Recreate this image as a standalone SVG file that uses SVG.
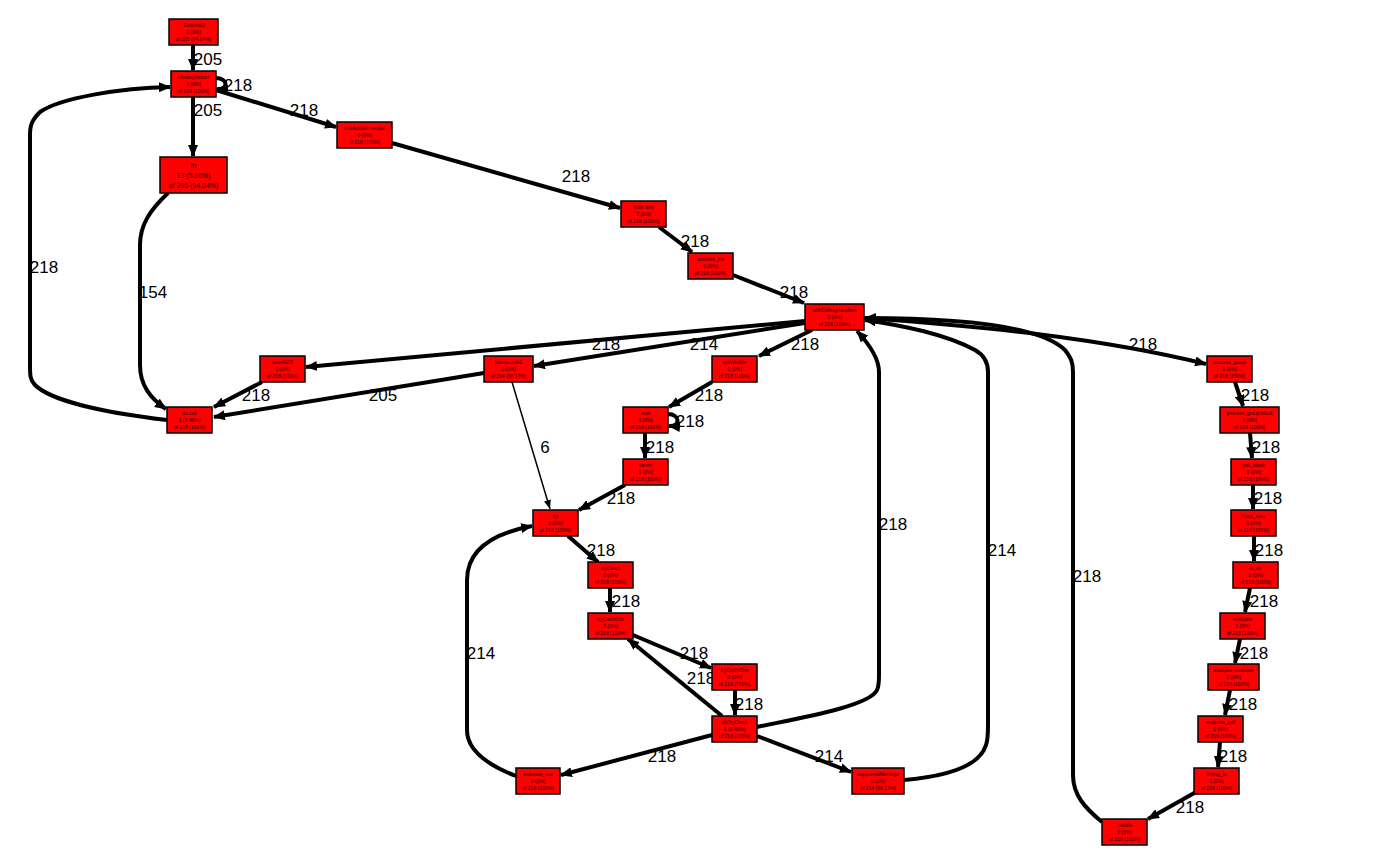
<svg xmlns="http://www.w3.org/2000/svg" width="1400" height="865" viewBox="0 0 1400 865">
<defs>
<style>
.n rect{fill:#ff0000;stroke:#000;stroke-width:1.5}
.n text{font-family:"Liberation Sans",Arial,sans-serif;font-size:5px;fill:#200;text-anchor:middle}
.e path{fill:none;stroke:#000;stroke-width:4}
.e path.t{stroke-width:1.5}
.l text{font-family:"Liberation Sans",Arial,sans-serif;font-size:17px;fill:#000;text-anchor:middle}
</style>
<marker id="a" markerWidth="12" markerHeight="10" refX="11" refY="5" orient="auto" markerUnits="userSpaceOnUse"><path d="M0,0 L12,5 L0,10 z" fill="#000"/></marker>
<marker id="b" markerWidth="9" markerHeight="7" refX="9" refY="3.5" orient="auto" markerUnits="userSpaceOnUse"><path d="M0,0 L9,3.5 L0,7 z" fill="#000"/></marker>
</defs>
<rect width="1400" height="865" fill="#fff"/>
<g class="e" id="edges">
<path marker-end="url(#a)" d="M193,45 L193,70"/>
<path marker-end="url(#a)" d="M216,78 C228,78 229,90 217,89"/>
<path marker-end="url(#a)" d="M193,97 L193,156"/>
<path marker-end="url(#a)" d="M216,90 L336,127"/>
<path marker-end="url(#a)" d="M392,143 L620,208"/>
<path marker-end="url(#a)" d="M659,227 L692,252"/>
<path marker-end="url(#a)" d="M733,275 L804,303"/>
<path marker-end="url(#a)" d="M168,193 C150,210 140,225 140,245 L140,365 C140,385 150,398 166,409"/>
<path marker-end="url(#a)" d="M167,420 C100,412 50,400 35,385 C30,380 30,375 30,365 L30,135 C30,125 32,120 40,112 C60,98 120,88 170,87"/>
<path marker-end="url(#a)" d="M805,321 L306,367"/>
<path marker-end="url(#a)" d="M805,323 L534,366"/>
<path marker-end="url(#a)" d="M812,330 L759,356"/>
<path marker-end="url(#a)" d="M864,318 C980,326 1100,338 1206,364"/>
<path marker-end="url(#a)" d="M262,382 L214,407"/>
<path marker-end="url(#a)" d="M484,373 L214,417"/>
<path class="t" marker-end="url(#b)" d="M512,382 L550,509"/>
<path marker-end="url(#a)" d="M712,382 L669,407"/>
<path marker-end="url(#a)" d="M668,414 C680,414 681,427 669,426"/>
<path marker-end="url(#a)" d="M645,433 L645,458"/>
<path marker-end="url(#a)" d="M625,485 L579,510"/>
<path marker-end="url(#a)" d="M568,536 L598,562"/>
<path marker-end="url(#a)" d="M610,588 L610,612"/>
<path marker-end="url(#a)" d="M633,635 L711,668"/>
<path marker-end="url(#a)" d="M735,690 L735,715"/>
<path marker-end="url(#a)" d="M722,716 L628,639"/>
<path marker-end="url(#a)" d="M712,735 L561,775"/>
<path marker-end="url(#a)" d="M757,736 L851,772"/>
<path marker-end="url(#a)" d="M757,727 C800,718 870,706 877,690 C879,686 879,682 879,675 L879,372 C879,360 870,345 857,331"/>
<path marker-end="url(#a)" d="M904,780 C950,776 980,765 986,745 C988,740 988,735 988,725 L988,372 C988,362 984,355 975,350 C945,334 905,326 865,320"/>
<path marker-end="url(#a)" d="M1102,822 C1085,808 1073,795 1073,775 L1073,372 C1073,362 1071,358 1065,350 C1040,326 960,318 865,318"/>
<path marker-end="url(#a)" d="M516,776 C490,766 467,752 467,730 L467,580 C467,552 490,534 532,526"/>
<path marker-end="url(#a)" d="M1235,382 L1243,406"/>
<path marker-end="url(#a)" d="M1250,433 L1252,458"/>
<path marker-end="url(#a)" d="M1253,485 L1253,509"/>
<path marker-end="url(#a)" d="M1254,536 L1254,561"/>
<path marker-end="url(#a)" d="M1250,588 L1245,612"/>
<path marker-end="url(#a)" d="M1240,639 L1235,663"/>
<path marker-end="url(#a)" d="M1230,690 L1225,715"/>
<path marker-end="url(#a)" d="M1220,742 L1218,767"/>
<path marker-end="url(#a)" d="M1196,792 L1148,819"/>
</g>
<g class="l" id="labels">
<text x="208" y="65">205</text>
<text x="238" y="91">218</text>
<text x="208" y="116">205</text>
<text x="304" y="116">218</text>
<text x="576" y="182">218</text>
<text x="695" y="247">218</text>
<text x="794" y="298">218</text>
<text x="153" y="298">154</text>
<text x="44" y="273">218</text>
<text x="606" y="350">218</text>
<text x="704" y="350">214</text>
<text x="805" y="350">218</text>
<text x="1143" y="350">218</text>
<text x="256" y="401">218</text>
<text x="383" y="401">205</text>
<text x="545" y="453">6</text>
<text x="709" y="401">218</text>
<text x="690" y="427">218</text>
<text x="660" y="453">218</text>
<text x="621" y="504">218</text>
<text x="601" y="556">218</text>
<text x="626" y="607">218</text>
<text x="694" y="659">218</text>
<text x="749" y="710">218</text>
<text x="701" y="684">218</text>
<text x="662" y="762">218</text>
<text x="829" y="762">214</text>
<text x="893" y="530">218</text>
<text x="1002" y="556">214</text>
<text x="1087" y="582">218</text>
<text x="481" y="659">214</text>
<text x="1255" y="401">218</text>
<text x="1266" y="453">218</text>
<text x="1268" y="504">218</text>
<text x="1269" y="556">218</text>
<text x="1264" y="607">218</text>
<text x="1254" y="659">218</text>
<text x="1243" y="710">218</text>
<text x="1233" y="762">218</text>
<text x="1190" y="813">218</text>
</g>
<g class="n" id="n1"><rect x="169" y="19" width="49" height="26"/><text x="193.5" y="27">.External2</text><text x="193.5" y="34">0 (0%)</text><text x="193.5" y="41">of 205 (94.04%)</text></g>
<g class="n" id="n2"><rect x="171" y="71" width="45" height="26"/><text x="193.5" y="79">&lt;Anonymous&gt;</text><text x="193.5" y="86">0 (0%)</text><text x="193.5" y="93">of 218 (100%)</text></g>
<g class="n" id="n3"><rect x="160" y="157" width="67" height="36"/><text x="193.5" y="168" style="font-size:7px">fn</text><text x="193.5" y="178" style="font-size:7px">13 (5.96%)</text><text x="193.5" y="188" style="font-size:7px">of 205 (94.04%)</text></g>
<g class="n" id="n4"><rect x="337" y="122" width="55" height="26"/><text x="364.5" y="130">rmarkdown::render</text><text x="364.5" y="137">0 (0%)</text><text x="364.5" y="144">of 218 (100%)</text></g>
<g class="n" id="n5"><rect x="621" y="201" width="45" height="26"/><text x="643.5" y="209">knitr::knit</text><text x="643.5" y="216">0 (0%)</text><text x="643.5" y="223">of 218 (100%)</text></g>
<g class="n" id="n6"><rect x="688" y="253" width="45" height="26"/><text x="710.5" y="261">process_file</text><text x="710.5" y="268">0 (0%)</text><text x="710.5" y="275">of 218 (100%)</text></g>
<g class="n" id="n7"><rect x="805" y="304" width="59" height="26"/><text x="834.5" y="312">withCallingHandlers</text><text x="834.5" y="319">0 (0%)</text><text x="834.5" y="326">of 218 (100%)</text></g>
<g class="n" id="n8"><rect x="260" y="356" width="45" height="26"/><text x="282.5" y="364">saveRDS</text><text x="282.5" y="371">0 (0%)</text><text x="282.5" y="378">of 218 (100%)</text></g>
<g class="n" id="n9"><rect x="484" y="356" width="49" height="26"/><text x="508.5" y="364">bbmle::mle2</text><text x="508.5" y="371">0 (0%)</text><text x="508.5" y="378">of 214 (98.17%)</text></g>
<g class="n" id="n10"><rect x="712" y="356" width="45" height="26"/><text x="734.5" y="364">withVisible</text><text x="734.5" y="371">0 (0%)</text><text x="734.5" y="378">of 218 (100%)</text></g>
<g class="n" id="n11"><rect x="1207" y="356" width="45" height="26"/><text x="1229.5" y="364">process_group</text><text x="1229.5" y="371">0 (0%)</text><text x="1229.5" y="378">of 218 (100%)</text></g>
<g class="n" id="n12"><rect x="167" y="407" width="45" height="26"/><text x="189.5" y="415">do.call</text><text x="189.5" y="422">1 (0.46%)</text><text x="189.5" y="429">of 218 (100%)</text></g>
<g class="n" id="n13"><rect x="623" y="407" width="45" height="26"/><text x="645.5" y="415">eval</text><text x="645.5" y="422">0 (0%)</text><text x="645.5" y="429">of 218 (100%)</text></g>
<g class="n" id="n14"><rect x="1220" y="407" width="59" height="26"/><text x="1249.5" y="415">process_group.block</text><text x="1249.5" y="422">0 (0%)</text><text x="1249.5" y="429">of 218 (100%)</text></g>
<g class="n" id="n15"><rect x="623" y="459" width="45" height="26"/><text x="645.5" y="467">senim</text><text x="645.5" y="474">0 (0%)</text><text x="645.5" y="481">of 218 (100%)</text></g>
<g class="n" id="n16"><rect x="1231" y="459" width="45" height="26"/><text x="1253.5" y="467">call_block</text><text x="1253.5" y="474">0 (0%)</text><text x="1253.5" y="481">of 218 (100%)</text></g>
<g class="n" id="n17"><rect x="533" y="510" width="45" height="26"/><text x="555.5" y="518">try</text><text x="555.5" y="525">0 (0%)</text><text x="555.5" y="532">of 218 (100%)</text></g>
<g class="n" id="n18"><rect x="1231" y="510" width="45" height="26"/><text x="1253.5" y="518">block_exec</text><text x="1253.5" y="525">0 (0%)</text><text x="1253.5" y="532">of 218 (100%)</text></g>
<g class="n" id="n19"><rect x="588" y="562" width="45" height="26"/><text x="610.5" y="570">tryCatch</text><text x="610.5" y="577">0 (0%)</text><text x="610.5" y="584">of 218 (100%)</text></g>
<g class="n" id="n20"><rect x="1233" y="562" width="45" height="26"/><text x="1255.5" y="570">in_dir</text><text x="1255.5" y="577">0 (0%)</text><text x="1255.5" y="584">of 218 (100%)</text></g>
<g class="n" id="n21"><rect x="588" y="613" width="45" height="26"/><text x="610.5" y="621">tryCatchList</text><text x="610.5" y="628">0 (0%)</text><text x="610.5" y="635">of 218 (100%)</text></g>
<g class="n" id="n22"><rect x="1220" y="613" width="45" height="26"/><text x="1242.5" y="621">evaluate</text><text x="1242.5" y="628">0 (0%)</text><text x="1242.5" y="635">of 218 (100%)</text></g>
<g class="n" id="n23"><rect x="712" y="664" width="45" height="26"/><text x="734.5" y="672">tryCatchOne</text><text x="734.5" y="679">0 (0%)</text><text x="734.5" y="686">of 218 (100%)</text></g>
<g class="n" id="n24"><rect x="1208" y="664" width="51" height="26"/><text x="1233.5" y="672">evaluate::evaluate</text><text x="1233.5" y="679">0 (0%)</text><text x="1233.5" y="686">of 218 (100%)</text></g>
<g class="n" id="n25"><rect x="712" y="716" width="45" height="26"/><text x="734.5" y="724">doTryCatch</text><text x="734.5" y="731">1 (0.46%)</text><text x="734.5" y="738">of 218 (100%)</text></g>
<g class="n" id="n26"><rect x="1198" y="716" width="45" height="26"/><text x="1220.5" y="724">evaluate_call</text><text x="1220.5" y="731">0 (0%)</text><text x="1220.5" y="738">of 218 (100%)</text></g>
<g class="n" id="n27"><rect x="516" y="768" width="44" height="26"/><text x="538" y="776">estimate_mle</text><text x="538" y="783">0 (0%)</text><text x="538" y="790">of 218 (100%)</text></g>
<g class="n" id="n28"><rect x="852" y="768" width="52" height="26"/><text x="878" y="776">suppressWarnings</text><text x="878" y="783">0 (0%)</text><text x="878" y="790">of 214 (98.17%)</text></g>
<g class="n" id="n29"><rect x="1194" y="768" width="45" height="26"/><text x="1216.5" y="776">timing_fn</text><text x="1216.5" y="783">0 (0%)</text><text x="1216.5" y="790">of 218 (100%)</text></g>
<g class="n" id="n30"><rect x="1102" y="819" width="45" height="26"/><text x="1124.5" y="827">handle</text><text x="1124.5" y="834">0 (0%)</text><text x="1124.5" y="841">of 218 (100%)</text></g>
</svg>
